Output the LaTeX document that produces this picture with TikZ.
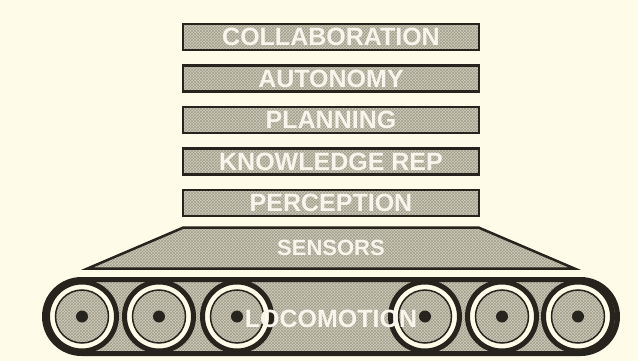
\documentclass[tikz,border=0pt]{standalone}
\usepackage{fontspec}
\setsansfont{Liberation Sans}
\usetikzlibrary{positioning,shapes.geometric,patterns}
\definecolor{paper}{RGB}{254,251,232}
\definecolor{ink}{RGB}{38,36,28}
\definecolor{stone}{RGB}{210,206,190}
\definecolor{grit}{RGB}{162,158,140}
\definecolor{chalk}{RGB}{248,246,236}

\begin{document}
\begin{tikzpicture}[
  x=1pt,y=-1pt,
  font=\fontsize{25}{25}\selectfont\sffamily\bfseries,
  node distance=13pt,
  grain/.style={preaction={fill=stone},pattern=crosshatch,pattern color=grit},
  layer/.style={grain,draw=ink,line width=2.5pt,minimum width=296pt,
                minimum height=26pt,inner sep=0pt,text=chalk},
  sensorbox/.style={grain,draw=ink,line width=2.5pt,trapezium,trapezium angle=24,
                trapezium stretches=true,minimum width=487pt,minimum height=41pt,
                inner sep=0pt,text=chalk,font=\fontsize{22}{22}\selectfont\sffamily\bfseries},
  track/.style={grain,draw=ink,line width=5pt,rounded corners=37pt,
                minimum width=573pt,minimum height=74pt,inner sep=0pt},
  wheel/.style={circle,draw=ink,line width=5pt,fill=paper,minimum size=69pt,inner sep=0pt},
  rim/.style={circle,grain,draw=ink,line width=1.5pt,minimum size=53pt,inner sep=0pt},
  hub/.style={circle,fill=ink,minimum size=12pt,inner sep=0pt},
  lbl/.style={text=chalk,inner sep=0pt},
]
\useasboundingbox[fill=paper] (0,0) rectangle (638,361);

% stack of layers
\node[layer] (collab) at (331,37) {COLLABORATION};
\node[layer,below=of collab] (auton) {AUTONOMY};
\node[layer,below=of auton] (plan) {PLANNING};
\node[layer,below=of plan] (know) {KNOWLEDGE REP};
\node[layer,below=of know] (percep) {PERCEPTION};
\node[sensorbox,below=9pt of percep] (sensors) {SENSORS};

% tracked base
\node[track] (track) at (331,316.5) {};
\foreach \x [count=\i] in {82,159,237,425,502,578} {
  \node[wheel] (w\i) at (\x,316.5) {};
  \node[rim] (r\i) at (w\i) {};
  \node[hub] (h\i) at (w\i) {};
}
\node[lbl] (loco) at (331,319) {LOCOMOTION};
\end{tikzpicture}
\end{document}
